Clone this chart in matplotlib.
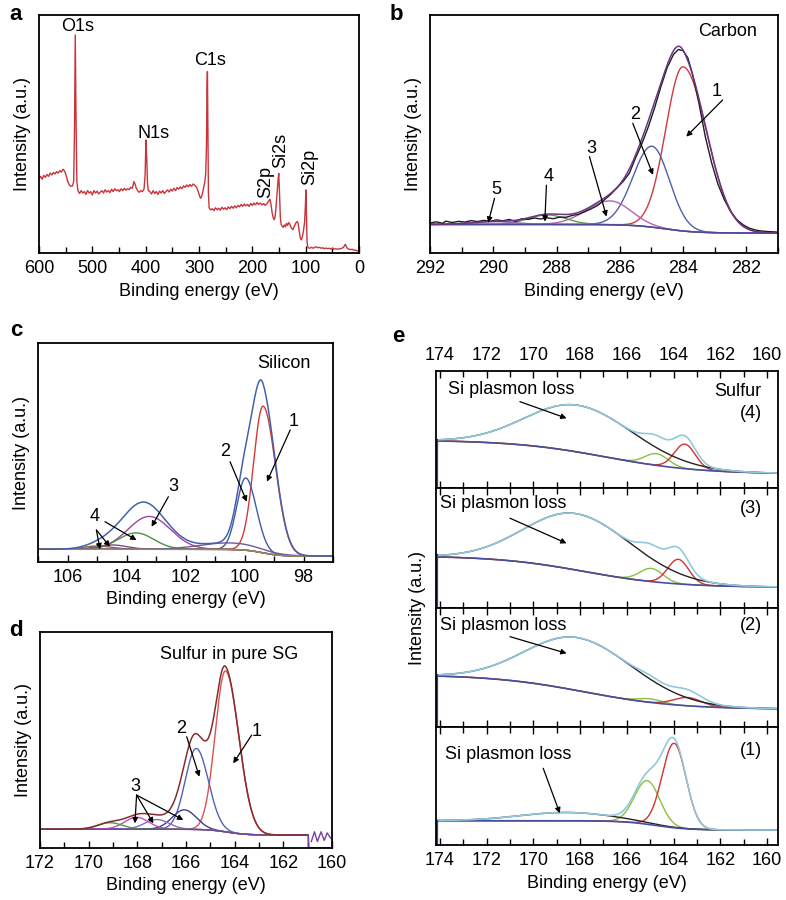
import numpy as np
import matplotlib
matplotlib.use("Agg")
import matplotlib.pyplot as plt
from matplotlib.ticker import MultipleLocator

plt.rcParams['font.family'] = ['Liberation Sans', 'DejaVu Sans']
FS = 13
plt.rcParams['font.size'] = FS

# ======================= DATA =======================
# (a) survey spectrum (binding energy in eV, intensity in a.u. scaled 0-1)
survey_energy = [600, 597, 594, 591, 588, 585, 582, 579, 576, 573, 570, 567, 564, 561, 558, 555, 552, 549, 546, 543,
                 540, 537, 535, 533.5, 532, 530.5, 529, 527, 524, 521, 518, 515, 512, 509, 506, 503, 500, 497, 494, 491,
                 488, 485, 482, 479, 476, 473, 470, 467, 464, 461, 458, 455, 452, 449, 446, 443, 440, 437, 434, 431,
                 428, 425, 422, 420, 418, 415, 412, 409, 406, 403, 401, 399.5, 398, 396.5, 395, 392, 389, 386, 383, 380,
                 377, 374, 371, 368, 365, 362, 359, 356, 353, 350, 347, 344, 341, 338, 335, 332, 329, 326, 323, 320,
                 317, 314, 311, 308, 305, 302, 299, 297, 295, 293, 291, 289, 287.5, 286, 285, 284.2, 283.3, 282.3, 281, 278,
                 275, 272, 269, 266, 263, 260, 257, 254, 251, 248, 245, 242, 239, 236, 233, 230, 227, 224, 221, 218,
                 215, 212, 209, 206, 203, 200, 197, 194, 191, 188, 185, 182, 179, 176, 173, 171, 169, 167, 165, 163,
                 161, 159, 157.5, 156, 154, 152, 150.5, 149, 147.5, 146, 144, 142, 140, 138, 136, 134, 132, 130, 128, 126,
                 124, 122, 120, 118, 116, 114, 112, 110, 108, 106, 104, 102, 100.5, 99.5, 98.5, 97.5, 96.5, 95, 92, 89,
                 86, 83, 80, 77, 74, 71, 68, 65, 62, 59, 56, 53, 50, 47, 44, 41, 38, 35, 32, 29,
                 27, 25.5, 24, 22, 19, 16, 13, 10, 7, 4, 1, 0]
survey_intensity = [0.312, 0.322, 0.310, 0.326, 0.318, 0.330, 0.322, 0.336, 0.328, 0.338, 0.332, 0.342, 0.336, 0.346, 0.340, 0.352, 0.344, 0.325, 0.300, 0.285,
                    0.280, 0.282, 0.300, 0.500, 0.916, 0.550, 0.300, 0.262, 0.250, 0.262, 0.252, 0.258, 0.246, 0.262, 0.252, 0.258, 0.244, 0.262, 0.252, 0.260,
                    0.248, 0.256, 0.262, 0.252, 0.266, 0.256, 0.262, 0.254, 0.268, 0.258, 0.270, 0.262, 0.266, 0.258, 0.270, 0.262, 0.272, 0.264, 0.270, 0.266,
                    0.276, 0.272, 0.300, 0.290, 0.275, 0.262, 0.255, 0.262, 0.258, 0.270, 0.330, 0.475, 0.400, 0.290, 0.262, 0.258, 0.248, 0.262, 0.250, 0.258,
                    0.246, 0.260, 0.252, 0.262, 0.250, 0.258, 0.265, 0.256, 0.268, 0.260, 0.272, 0.262, 0.275, 0.268, 0.278, 0.270, 0.282, 0.276, 0.286, 0.278,
                    0.288, 0.280, 0.290, 0.284, 0.278, 0.262, 0.240, 0.230, 0.238, 0.255, 0.278, 0.300, 0.330, 0.450, 0.700, 0.762, 0.500, 0.250, 0.190, 0.181,
                    0.186, 0.178, 0.190, 0.182, 0.188, 0.180, 0.192, 0.184, 0.190, 0.182, 0.194, 0.186, 0.196, 0.188, 0.198, 0.190, 0.200, 0.194, 0.204, 0.196,
                    0.206, 0.198, 0.204, 0.196, 0.208, 0.200, 0.210, 0.202, 0.212, 0.204, 0.210, 0.202, 0.208, 0.200, 0.206, 0.212, 0.220, 0.226, 0.205, 0.170,
                    0.150, 0.140, 0.150, 0.180, 0.240, 0.300, 0.335, 0.250, 0.150, 0.120, 0.112, 0.108, 0.118, 0.110, 0.124, 0.116, 0.128, 0.122, 0.110, 0.104,
                    0.098, 0.108, 0.118, 0.128, 0.132, 0.124, 0.090, 0.062, 0.055, 0.070, 0.096, 0.130, 0.200, 0.265, 0.160, 0.050, 0.030, 0.022, 0.020, 0.024,
                    0.020, 0.024, 0.026, 0.022, 0.024, 0.020, 0.022, 0.018, 0.021, 0.018, 0.020, 0.017, 0.019, 0.016, 0.018, 0.016, 0.017, 0.018, 0.020, 0.024,
                    0.032, 0.036, 0.028, 0.020, 0.016, 0.014, 0.016, 0.012, 0.012, 0.010, 0.008, 0.008]
survey_peak_names = ['O1s', 'N1s', 'C1s', 'S2p', 'Si2s', 'Si2p']
survey_name_energy = [527, 386, 280, 175, 147, 92]
survey_name_level = [0.95, 0.50, 0.81, 0.30, 0.43, 0.36]
survey_name_rotation = [0, 0, 0, 90, 90, 90]

# (b) C 1s: measured curve and fitted components (centre, height, width high-BE side, width low-BE side)
c1s_data_energy = [292.0, 291.8, 291.6, 291.5, 291.3, 291.1, 290.9, 290.7, 290.5, 290.3, 290.1, 289.9, 289.7, 289.5, 289.3,
                   289.1, 288.9, 288.7, 288.5, 288.3, 288.1, 287.9, 287.7, 287.5, 287.3, 287.1, 286.9, 286.7, 286.5, 286.3,
                   286.1, 285.9, 285.7, 285.5, 285.3, 285.1, 284.9, 284.7, 284.5, 284.3, 284.15, 284.0, 283.85, 283.7, 283.5,
                   283.3, 283.1, 282.9, 282.7, 282.5, 282.3, 282.1, 281.9, 281.7, 281.5, 281.3, 281.0]
c1s_data_intensity = [0.126, 0.131, 0.125, 0.134, 0.128, 0.133, 0.130, 0.136, 0.132, 0.137, 0.133, 0.139, 0.135, 0.141, 0.133,
                      0.144, 0.141, 0.147, 0.143, 0.148, 0.144, 0.151, 0.150, 0.158, 0.163, 0.174, 0.186, 0.200, 0.222, 0.245,
                      0.272, 0.300, 0.335, 0.400, 0.460, 0.530, 0.610, 0.700, 0.780, 0.835, 0.855, 0.850, 0.820, 0.750, 0.630,
                      0.490, 0.380, 0.290, 0.225, 0.175, 0.140, 0.118, 0.104, 0.096, 0.092, 0.090, 0.088]
c1s_centres = [284.0, 284.98, 286.3, 288.3, 290.0]
c1s_heights = [0.69, 0.34, 0.10, 0.04, 0.012]
c1s_width_hi = [0.55, 0.60, 0.75, 0.60, 0.70]
c1s_width_lo = [0.75, 0.55, 0.65, 0.60, 0.70]
c1s_background = [0.120, 0.084, 284.6, 0.5]   # high-BE level, low-BE level, step centre, step width

# (c) Si 2p components
si_centres = [99.37, 99.96, 103.23, 103.68, 104.5, 105.0, 100.5]
si_heights = [0.67, 0.33, 0.15, 0.075, 0.02, 0.015, 0.03]
si_width_hi = [0.32, 0.30, 0.72, 0.60, 0.5, 0.5, 1.0]
si_width_lo = [0.42, 0.36, 0.72, 0.60, 0.5, 0.5, 1.0]
si_background = [0.058, 0.027, 99.4, 0.3]

# (d) S 2p in pure SG components
sg_centres = [164.38, 165.58, 166.07, 167.2, 168.03, 169.12]
sg_heights = [0.745, 0.375, 0.09, 0.045, 0.055, 0.03]
sg_width_hi = [0.42, 0.45, 0.5, 0.5, 0.5, 0.5]
sg_width_lo = [0.55, 0.50, 0.5, 0.5, 0.5, 0.5]
sg_background = [0.087, 0.060, 164.3, 0.4]
sg_tail_energy = [160.98, 160.96, 160.0]
sg_tail_intensity = [0.060, 0.0, 0.0]
sg_wiggle_energy = [160.85, 160.72, 160.6, 160.45, 160.32, 160.2, 160.05]
sg_wiggle_intensity = [0.03, 0.075, 0.03, 0.075, 0.035, 0.07, 0.045]

# (e) S 2p in samples (4)..(1)
e_labels = ['(4)', '(3)', '(2)', '(1)']
e_background = [[0.41, 0.12, 166.9, 2.0], [0.435, 0.172, 167.8, 1.9],
                [0.44, 0.149, 167.8, 2.0], [0.206, 0.127, 164.8, 0.7]]
e_plasmon = [[168.08, 0.40, 2.2, 2.4], [168.15, 0.47, 2.2, 2.4],
             [168.08, 0.445, 2.2, 2.4], [168.6, 0.07, 2.0, 2.0]]
e_s2p32 = [[163.52, 0.21, 0.45], [163.8, 0.205, 0.45], [163.4, 0.07, 0.6], [163.98, 0.716, 0.51]]
e_s2p12 = [[164.73, 0.10, 0.5], [164.95, 0.11, 0.5], [165.0, 0.03, 0.5], [165.13, 0.37, 0.54]]

# ======================= HELPERS =======================
def peak(x, c, h, s_hi, s_lo):
    s = np.where(x >= c, s_hi, s_lo)
    return h * np.exp(-0.5 * ((x - c) / s) ** 2)


def step(x, hi, lo, c, w):
    return lo + (hi - lo) / (1.0 + np.exp(-(x - c) / w))


def style(ax, xlim, major, minor, top=False, bottom=True, labeltop=False, labelbottom=True):
    ax.set_xlim(*xlim)
    ax.set_ylim(0, 1)
    ax.xaxis.set_major_locator(MultipleLocator(major))
    ax.xaxis.set_minor_locator(MultipleLocator(minor))
    ax.set_yticks([])
    ax.tick_params(axis='x', which='both', direction='in', top=top, bottom=bottom,
                   labeltop=labeltop, labelbottom=labelbottom, labelsize=FS, width=1.0, pad=5)
    ax.tick_params(axis='x', which='major', length=5)
    ax.tick_params(axis='x', which='minor', length=4)
    for s in ax.spines.values():
        s.set_linewidth(1.3)


ARROW = dict(arrowstyle='-|>', color='black', lw=0.9, mutation_scale=8, shrinkA=0, shrinkB=0)

W, H = 786, 900
fig = plt.figure(figsize=(W / 100, H / 100), dpi=100)


def rect(l, t, r, b):
    return [l / W, 1 - b / H, (r - l) / W, (b - t) / H]


# ---------------- (a) ----------------
axa = fig.add_axes(rect(39, 15, 359, 253))
axa.plot(survey_energy, survey_intensity, color='#c9343b', lw=1.0)
style(axa, (600, 0), 100, 50)
for n, xe_, yl, r in zip(survey_peak_names, survey_name_energy, survey_name_level, survey_name_rotation):
    axa.text(xe_, yl, n, ha='center', va='center', rotation=r, fontsize=FS)
axa.set_xlabel('Binding energy (eV)', fontsize=FS, labelpad=4)
axa.set_ylabel('Intensity (a.u.)', fontsize=FS, labelpad=6)

# ---------------- (b) ----------------
axb = fig.add_axes(rect(430, 15, 778, 253))
xb = np.linspace(292, 281, 800)
bb = step(xb, *c1s_background)
b_cols = ['#d03a3c', '#4f5fae', '#b463b5', '#5a9c4e', '#8a6aa8']
comps = [peak(xb, c, h, sh, sl) for c, h, sh, sl in zip(c1s_centres, c1s_heights, c1s_width_hi, c1s_width_lo)]
for comp, col in zip(comps, b_cols):
    axb.plot(xb, bb + comp, color=col, lw=1.0)
axb.plot(xb, bb, color='#4d4a9c', lw=1.1)
axb.plot(c1s_data_energy, c1s_data_intensity, color='#1e1e1e', lw=1.0)
axb.plot(xb, bb + np.sum(comps, axis=0), color='#6b3584', lw=1.1)
style(axb, (292, 281), 2, 1)
axb.text(282.6, 0.93, 'Carbon', ha='center', va='center')
for lab, tx, ty, hx, hy in [('1', 282.95, 0.678, 283.9, 0.489), ('2', 285.53, 0.58, 284.95, 0.328),
                            ('3', 286.9, 0.44, 286.42, 0.153), ('4', 288.26, 0.32, 288.37, 0.132),
                            ('5', 289.9, 0.265, 290.16, 0.127)]:
    axb.text(tx, ty, lab, ha='center', va='center')
    axb.annotate('', xy=(hx, hy), xytext=(tx + (0.06 if lab != '1' else -0.2), ty - 0.035), arrowprops=ARROW)
axb.set_xlabel('Binding energy (eV)', fontsize=FS, labelpad=4)
axb.set_ylabel('Intensity (a.u.)', fontsize=FS, labelpad=6)

# ---------------- (c) ----------------
axc = fig.add_axes(rect(38, 343, 333, 562))
xc = np.linspace(107, 97, 800)
bc = step(xc, *si_background)
c_cols = ['#d23a3a', '#3f5aa8', '#a3439e', '#4f8f46', '#7b4a94', '#8c6a3a', '#6a5aa0']
ccomps = [peak(xc, c, h, sh, sl) for c, h, sh, sl in zip(si_centres, si_heights, si_width_hi, si_width_lo)]
for comp, col in zip(ccomps, c_cols):
    axc.plot(xc, bc + comp, color=col, lw=1.0)
axc.plot(xc, bc, color='#9a8a5a', lw=1.0)
axc.plot(xc, bc + np.sum(ccomps, axis=0), color='#4560b0', lw=1.1)
style(axc, (107, 97), 2, 1)
axc.text(98.65, 0.907, 'Silicon', ha='center', va='center')
axc.text(98.34, 0.64, '1', ha='center', va='center')
axc.annotate('', xy=(99.24, 0.367), xytext=(98.45, 0.603), arrowprops=ARROW)
axc.text(100.66, 0.504, '2', ha='center', va='center')
axc.annotate('', xy=(99.92, 0.275), xytext=(100.49, 0.458), arrowprops=ARROW)
axc.text(102.41, 0.344, '3', ha='center', va='center')
axc.annotate('', xy=(103.15, 0.161), xytext=(102.58, 0.298), arrowprops=ARROW)
axc.text(105.07, 0.207, '4', ha='center', va='center')
axc.annotate('', xy=(104.9, 0.058), xytext=(105.02, 0.146), arrowprops=ARROW)
axc.annotate('', xy=(104.56, 0.07), xytext=(105.02, 0.146), arrowprops=ARROW)
axc.annotate('', xy=(103.66, 0.10), xytext=(104.73, 0.184), arrowprops=ARROW)
axc.set_xlabel('Binding energy (eV)', fontsize=FS, labelpad=4)
axc.set_ylabel('Intensity (a.u.)', fontsize=FS, labelpad=6)

# ---------------- (d) ----------------
axd = fig.add_axes(rect(40, 632, 332, 848))
xd = np.linspace(172, 160.98, 800)
bd = step(xd, *sg_background)
d_cols = ['#d9544f', '#5462b4', '#3b3f82', '#8d6cc4', '#c352b4', '#4f9a4f']
dcomps = [peak(xd, c, h, sh, sl) for c, h, sh, sl in zip(sg_centres, sg_heights, sg_width_hi, sg_width_lo)]
for comp, col in zip(dcomps, d_cols):
    axd.plot(xd, bd + comp, color=col, lw=1.0)
axd.plot(xd, bd, color='#7443a3', lw=1.0)
axd.plot(xd, bd + np.sum(dcomps, axis=0), color='#8a2c2c', lw=1.1)
axd.plot(sg_tail_energy, sg_tail_intensity, color='#7443a3', lw=1.3)
axd.plot(sg_wiggle_energy, sg_wiggle_intensity, color='#7443a3', lw=1.0)
style(axd, (172, 160), 2, 1)
axd.text(164.23, 0.894, 'Sulfur in pure SG', ha='center', va='center')
axd.text(163.09, 0.538, '1', ha='center', va='center')
axd.annotate('', xy=(164.06, 0.392), xytext=(163.3, 0.523), arrowprops=ARROW)
axd.text(166.18, 0.554, '2', ha='center', va='center')
axd.annotate('', xy=(165.45, 0.33), xytext=(165.97, 0.515), arrowprops=ARROW)
axd.text(168.1, 0.284, '3', ha='center', va='center')
for hx, hy in [(168.1, 0.114), (167.34, 0.114), (166.11, 0.13)]:
    axd.annotate('', xy=(hx, hy), xytext=(168.03, 0.245), arrowprops=ARROW)
axd.set_xlabel('Binding energy (eV)', fontsize=FS, labelpad=4)
axd.set_ylabel('Intensity (a.u.)', fontsize=FS, labelpad=6)

# ---------------- (e) ----------------
e_tops = [371, 488, 608, 727]
e_bottoms = [488, 608, 727, 845]
text_pos = [(173.66, 0.838, 170.58, 0.738, 168.58, 0.596), (174.0, 0.875, 171.0, 0.748, 168.58, 0.539),
            (174.0, 0.857, 171.0, 0.759, 168.58, 0.619), (173.79, 0.763, 169.58, 0.65, 168.87, 0.269)]
num_y = [0.641, 0.833, 0.857, 0.805]
xe = np.linspace(174.12, 159.5, 900)
for i in range(4):
    ax = fig.add_axes(rect(436, e_tops[i], 778, e_bottoms[i]))
    be = step(xe, *e_background[i])
    pl = peak(xe, e_plasmon[i][0], e_plasmon[i][1], e_plasmon[i][2], e_plasmon[i][3])
    g = peak(xe, e_s2p12[i][0], e_s2p12[i][1], e_s2p12[i][2], e_s2p12[i][2])
    r = peak(xe, e_s2p32[i][0], e_s2p32[i][1], e_s2p32[i][2], e_s2p32[i][2])
    tot = be + pl + g + r
    ax.plot(xe, be + g, color='#8cbf3f', lw=1.0)
    ax.plot(xe, be + r, color='#d23232', lw=1.0)
    ax.plot(xe, be + pl, color='#222222', lw=1.0)
    ax.plot(xe, be, color='#4a4e9e', lw=1.2)
    ax.plot(xe, tot, color='#92c9dc', lw=1.2)
    ax.plot([xe[0], xe[0]], [0, tot[0]], color='#3a3e8e', lw=1.6)
    style(ax, (174.17, 159.53), 2, 1, top=True, bottom=True,
          labeltop=(i == 0), labelbottom=(i == 3))
    tx, ty, ax0, ay0, hx, hy = text_pos[i]
    ax.text(tx, ty, 'Si plasmon loss', ha='left', va='center')
    ax.annotate('', xy=(hx, hy), xytext=(ax0, ay0), arrowprops=ARROW)
    ax.text(160.23, num_y[i], e_labels[i], ha='right', va='center')
    if i == 0:
        ax.text(160.23, 0.823, 'Sulfur', ha='right', va='center')
    if i == 3:
        ax.set_xlabel('Binding energy (eV)', fontsize=FS, labelpad=4)
fig.text(417 / W, 1 - 608 / H, 'Intensity (a.u.)', rotation=90, ha='center', va='center', fontsize=FS)

# panel letters
for lab, x, y in [('a', 16, 14), ('b', 396, 14), ('c', 16, 330), ('d', 16, 631), ('e', 398, 336)]:
    fig.text(x / W, 1 - y / H, lab, fontsize=16, fontweight='bold', ha='center', va='center')

fig.savefig('out.png', dpi=100)
